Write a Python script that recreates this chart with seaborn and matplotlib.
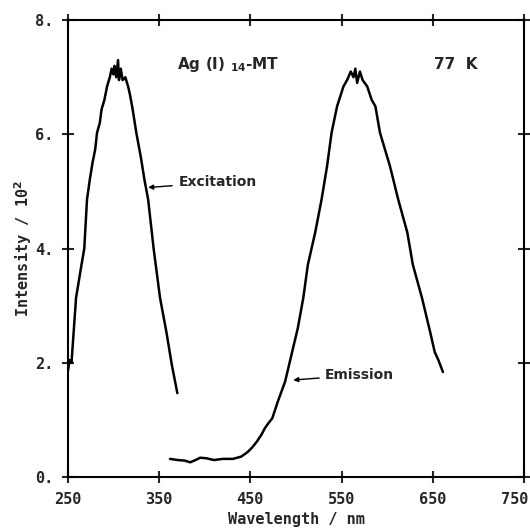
import pandas as pd
import seaborn as sns
import matplotlib.pyplot as plt
import matplotlib.transforms as mtransforms

# excitation spectrum
exc_wl = [250, 252, 254, 259, 265, 268, 271, 274, 277, 280, 282, 285, 287, 290,
          293, 296, 298, 300, 301, 303, 305, 306, 308, 310, 313, 316, 318, 321,
          325, 330, 334, 338, 344, 351, 358, 364, 370]
exc_int = [1.85, 2.05, 2.0, 3.14, 3.72, 4.0, 4.86, 5.2, 5.5, 5.74, 6.03, 6.2, 6.44,
           6.6, 6.84, 7.0, 7.15, 7.05, 7.2, 7.0, 7.3, 6.95, 7.15, 6.95, 7.0, 6.84,
           6.7, 6.44, 6.03, 5.6, 5.2, 4.86, 4.0, 3.14, 2.54, 1.96, 1.47]

# emission spectrum
emi_wl = [362, 370, 378, 384, 390, 395, 402, 410, 420, 431, 440, 447, 452, 457,
          462, 466, 470, 474, 480, 488, 495, 502, 508, 513, 521, 528, 534, 539,
          545, 552, 556, 560, 563, 565, 567, 570, 573, 578, 583, 587, 592, 603,
          612, 622, 628, 638, 647, 652, 656, 661]
emi_int = [0.32, 0.3, 0.29, 0.26, 0.3, 0.34, 0.33, 0.3, 0.32, 0.32, 0.36, 0.44,
           0.52, 0.62, 0.74, 0.86, 0.95, 1.03, 1.32, 1.67, 2.14, 2.61, 3.14, 3.72,
           4.28, 4.86, 5.44, 6.03, 6.49, 6.84, 6.95, 7.1, 7.0, 7.15, 6.9, 7.1,
           6.95, 6.84, 6.6, 6.49, 6.03, 5.44, 4.86, 4.28, 3.72, 3.14, 2.54, 2.19,
           2.05, 1.84]

x_ticks = [250, 350, 450, 550, 650, 750]
y_ticks = [0, 2, 4, 6, 8]
y_tick_labels = ["0.", "2.", "4.", "6.", "8."]

exc = pd.DataFrame({"wl": exc_wl, "inten": exc_int})
emi = pd.DataFrame({"wl": emi_wl, "inten": emi_int})

sns.set_style("ticks")
plt.rcParams["font.family"] = ["DejaVu Sans Mono", "DejaVu Sans"]

fig = plt.figure(figsize=(5.30, 5.29), dpi=100)
ax = fig.add_axes([0.128, 0.098, 0.861, 0.864])

sns.lineplot(data=exc, x="wl", y="inten", ax=ax, color="black", lw=1.8,
             estimator=None, sort=False)
sns.lineplot(data=emi, x="wl", y="inten", ax=ax, color="black", lw=1.8,
             estimator=None, sort=False)

ax.set_xlim(250, 750)
ax.set_ylim(0, 8)
ax.set_xticks(x_ticks)
ax.set_yticks(y_ticks)
ax.set_yticklabels(y_tick_labels)

for s in ax.spines.values():
    s.set_visible(True)
    s.set_linewidth(1.5)
    s.set_color("black")

ax.tick_params(direction="inout", length=9, width=1.5, top=True, right=True,
               labelsize=11, pad=6)
for lab in ax.get_xticklabels() + ax.get_yticklabels():
    lab.set_fontweight("bold")

# last x label sits a little left of its tick, as in the original
last = ax.get_xticklabels()[-1]
last.set_transform(last.get_transform() +
                   mtransforms.ScaledTranslation(-0.09, 0, fig.dpi_scale_trans))

ax.set_xlabel("Wavelength / nm", fontsize=11, fontweight="bold", labelpad=4)
ax.set_ylabel("Intensity / 10$^{\\mathbf{2}}$", fontsize=11, fontweight="bold",
              labelpad=1)

ax.text(370, 7.22, "Ag (I) $_{\\mathbf{14}}$-MT", fontsize=11, fontweight="bold",
        family="DejaVu Sans", va="center")
ax.text(651, 7.22, "77  K", fontsize=11, fontweight="bold", family="DejaVu Sans",
        va="center")

ax.annotate("Excitation", xy=(338, 5.07), xytext=(371, 5.16), fontsize=10,
            fontweight="bold", family="DejaVu Sans", va="center",
            arrowprops=dict(arrowstyle="-|>", color="black", lw=1,
                            mutation_scale=7, shrinkA=2, shrinkB=0))
ax.annotate("Emission", xy=(497, 1.70), xytext=(532, 1.79), fontsize=10,
            fontweight="bold", family="DejaVu Sans", va="center",
            arrowprops=dict(arrowstyle="-|>", color="black", lw=1,
                            mutation_scale=7, shrinkA=2, shrinkB=0))

plt.savefig("out.png", dpi=100)
